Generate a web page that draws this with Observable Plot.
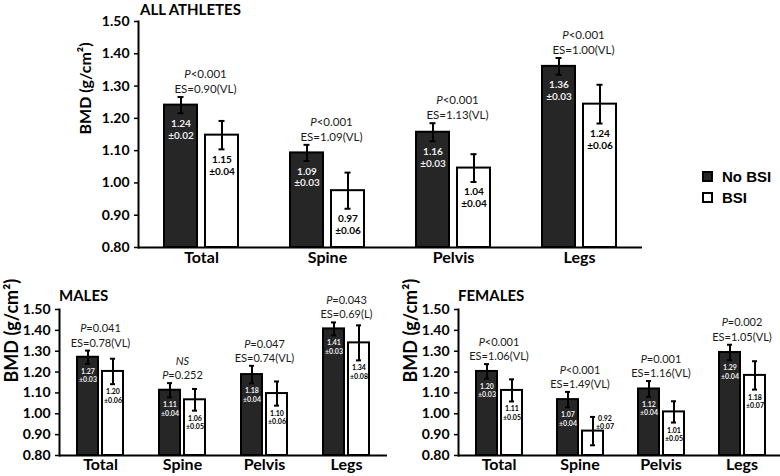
<!DOCTYPE html>
<html><head><meta charset="utf-8">
<script src="https://cdn.jsdelivr.net/npm/d3@7"></script>
<script src="https://cdn.jsdelivr.net/npm/@observablehq/plot@0.6"></script>
<style>
html,body{margin:0;padding:0;background:#fff;overflow:hidden}
#wrap{position:relative;width:780px;height:476px;overflow:hidden;font-family:Lato,"Open Sans",sans-serif}
.panel{position:absolute}
.title{position:absolute;font-weight:bold;font-size:15px;line-height:16px;color:#000;white-space:nowrap}
.leg{position:absolute;font-family:"Liberation Sans",Arial,sans-serif;font-weight:bold;font-size:15px;line-height:15px;color:#000;white-space:nowrap}
.sw{position:absolute;width:11px;height:11px;box-sizing:border-box;border:2px solid #000}
</style></head>
<body><div id="wrap"></div>
<script>
// ---------- data ----------
const categories = ["Total", "Spine", "Pelvis", "Legs"];
const groups = ["No BSI", "BSI"];
const yTicks = [0.8, 0.9, 1.0, 1.1, 1.2, 1.3, 1.4, 1.5];
const yLabel = "BMD (g/cm²)";

// ALL ATHLETES
const allNoBSI = [1.241, 1.093, 1.157, 1.361];
const allNoBSIErr = [0.025, 0.025, 0.028, 0.026];
const allBSI = [1.148, 0.976, 1.046, 1.244];
const allBSIErr = [0.044, 0.056, 0.043, 0.060];
const allNoBSILabel = ["1.24", "1.09", "1.16", "1.36"];
const allNoBSISD = ["0.02", "0.03", "0.03", "0.03"];
const allBSILabel = ["1.15", "0.97", "1.04", "1.24"];
const allBSISD = ["0.04", "0.06", "0.04", "0.06"];
const allLine1 = ["P<0.001", "P<0.001", "P<0.001", "P<0.001"];
const allLine2 = ["ES=0.90(VL)", "ES=1.09(VL)", "ES=1.13(VL)", "ES=1.00(VL)"];

// MALES
const maleNoBSI = [1.271, 1.113, 1.188, 1.407];
const maleNoBSIErr = [0.032, 0.034, 0.042, 0.031];
const maleBSI = [1.203, 1.067, 1.097, 1.340];
const maleBSIErr = [0.061, 0.052, 0.058, 0.084];
const maleNoBSILabel = ["1.27", "1.11", "1.18", "1.41"];
const maleNoBSISD = ["0.03", "0.04", "0.04", "0.03"];
const maleBSILabel = ["1.20", "1.06", "1.10", "1.34"];
const maleBSISD = ["0.06", "0.05", "0.06", "0.08"];
const maleLine1 = ["P=0.041", "NS", "P=0.047", "P=0.043"];
const maleLine2 = ["ES=0.78(VL)", "P=0.252", "ES=0.74(VL)", "ES=0.69(L)"];

// FEMALES
const femNoBSI = [1.203, 1.068, 1.119, 1.294];
const femNoBSIErr = [0.035, 0.037, 0.038, 0.037];
const femBSI = [1.112, 0.917, 1.009, 1.184];
const femBSIErr = [0.053, 0.068, 0.051, 0.068];
const femNoBSILabel = ["1.20", "1.07", "1.12", "1.29"];
const femNoBSISD = ["0.03", "0.04", "0.04", "0.04"];
const femBSILabel = ["1.11", "0.92", "1.01", "1.18"];
const femBSISD = ["0.05", "0.07", "0.05", "0.07"];
const femLine1 = ["P<0.001", "P<0.001", "P=0.001", "P=0.002"];
const femLine2 = ["ES=1.06(VL)", "ES=1.49(VL)", "ES=1.16(VL)", "ES=1.05(VL)"];

// ---------- helpers ----------
function buildRows(nm, ne, nl, ns, bm, be, bl, bs) {
  const rows = [];
  categories.forEach((c, i) => {
    rows.push({cat: c, group: "No BSI", mean: nm[i], err: ne[i], label: nl[i], sd: ns[i]});
    rows.push({cat: c, group: "BSI", mean: bm[i], err: be[i], label: bl[i], sd: bs[i]});
  });
  return rows;
}
function buildAnn(l1, l2, rows) {
  return categories.map((c, i) => ({
    cat: c,
    text: l1[i] + "\n" + l2[i],
    top: d3.max(rows.filter(r => r.cat === c), r => r.mean + r.err)
  }));
}
const fits = d => d.mean - d.err - 0.8 > 0.08;

function panel(o) {
  const {rows, ann} = o;
  return Plot.plot({
    width: o.ml + o.fw, height: o.h,
    marginTop: o.mt, marginBottom: o.mb, marginLeft: o.ml, marginRight: 0,
    style: {fontFamily: "Lato, 'Open Sans', sans-serif", color: "#000", background: "transparent", overflow: "visible"},
    fx: {domain: categories, padding: 0, label: null},
    x: {domain: groups, paddingInner: o.pi, paddingOuter: o.po, axis: null},
    y: {domain: [0.8, 1.5], label: null},
    marks: [
      Plot.barY(rows, {fx: "cat", x: "group", y1: 0.8, y2: "mean",
        fill: d => d.group === "No BSI" ? "#262626" : "#fff", stroke: "#000", strokeWidth: 2}),
      Plot.ruleX(rows, {fx: "cat", x: "group", y1: d => d.mean - d.err, y2: d => d.mean + d.err, stroke: "#000", strokeWidth: 2}),
      Plot.tickY(rows, {fx: "cat", x: "group", y: d => d.mean + d.err, insetLeft: o.cap, insetRight: o.cap, stroke: "#000", strokeWidth: 2}),
      Plot.tickY(rows, {fx: "cat", x: "group", y: d => d.mean - d.err, insetLeft: o.cap, insetRight: o.cap, stroke: "#000", strokeWidth: 2}),
      Plot.ruleY([0.8], {stroke: "#000", strokeWidth: 2}),
      Plot.frame({anchor: "left", facetAnchor: "left", stroke: "#000", strokeWidth: 2}),
      Plot.axisY({ticks: yTicks, tickFormat: d3.format(".2f"), tickSize: 4, tickPadding: 5,
        fontSize: 14, fontWeight: "bold", label: null, stroke: "#000", strokeWidth: 1.5}),
      Plot.text([yLabel], {frameAnchor: "left", facetAnchor: "left", text: d => d, rotate: -90,
        dx: o.ydx, fontSize: o.yfs, fontWeight: "bold", fill: "#000"}),
      Plot.axisFx({anchor: "bottom", tickSize: 0, tickPadding: o.fxp, fontSize: 16, fontWeight: "bold", label: null}),
      Plot.text(rows.filter(fits), {fx: "cat", x: "group", y: d => d.mean - d.err,
        text: d => d.label + "\n±" + d.sd, lineAnchor: "top", dy: o.ldy, lineHeight: 1.2,
        fontSize: o.lfs, fontWeight: "bold", fill: d => d.group === "No BSI" ? "#ececec" : "#000"}),
      Plot.text(rows.filter(d => !fits(d)), {fx: "cat", x: "group", y: d => d.mean + d.err,
        text: d => d.label + "\n±" + d.sd, lineAnchor: "top", dy: -2, dx: 12, lineHeight: 1.2,
        fontSize: o.lfs, fontWeight: "bold", fill: "#000"}),
      Plot.text(ann, {fx: "cat", y: "top", text: "text", lineAnchor: "bottom", dy: -4, dx: o.adx,
        lineHeight: 1.3, fontSize: o.afs, fill: "#1a1a1a", className: "ann"})
    ]
  });
}

function italicize(svg) {
  svg.querySelectorAll(".ann tspan, .ann text").forEach(el => {
    if (el.querySelector("tspan")) return;
    const t = el.textContent;
    if (t === "NS") { el.setAttribute("font-style", "italic"); return; }
    if (/^P[<=]/.test(t)) {
      el.textContent = "";
      const it = document.createElementNS("http://www.w3.org/2000/svg", "tspan");
      it.setAttribute("font-style", "italic");
      it.textContent = "P";
      el.appendChild(it);
      el.appendChild(document.createTextNode(t.slice(1)));
    }
  });
}

const wrap = document.getElementById("wrap");
function place(node, left, top) {
  node.classList.add("panel");
  node.style.left = left + "px";
  node.style.top = top + "px";
  wrap.appendChild(node);
  italicize(node);
}
function addDiv(cls, txt, left, top) {
  const d = document.createElement("div");
  d.className = cls;
  d.textContent = txt;
  d.style.left = left + "px";
  d.style.top = top + "px";
  wrap.appendChild(d);
  return d;
}

// ALL ATHLETES
const allRows = buildRows(allNoBSI, allNoBSIErr, allNoBSILabel, allNoBSISD, allBSI, allBSIErr, allBSILabel, allBSISD);
place(panel({rows: allRows, ann: buildAnn(allLine1, allLine2, allRows),
  ml: 138, fw: 504, h: 270, mt: 21, mb: 23, pi: 0.19, po: 0.615, cap: 13.5,
  ydx: -53, yfs: 16, fxp: 4, ldy: 5, lfs: 10, afs: 11.5, adx: 4}), 0, 0);

// MALES
const maleRows = buildRows(maleNoBSI, maleNoBSIErr, maleNoBSILabel, maleNoBSISD, maleBSI, maleBSIErr, maleBSILabel, maleBSISD);
place(panel({rows: maleRows, ann: buildAnn(maleLine1, maleLine2, maleRows),
  ml: 59, fw: 328, h: 180, mt: 13, mb: 21, pi: 0.18, po: 0.7, cap: 8,
  ydx: -47, yfs: 18, fxp: 3, ldy: 4, lfs: 7, afs: 11, adx: 0}), 0, 296);

// FEMALES
const femRows = buildRows(femNoBSI, femNoBSIErr, femNoBSILabel, femNoBSISD, femBSI, femBSIErr, femBSILabel, femBSISD);
place(panel({rows: femRows, ann: buildAnn(femLine1, femLine2, femRows),
  ml: 59, fw: 326, h: 180, mt: 13, mb: 21, pi: 0.18, po: 0.7, cap: 8,
  ydx: -47, yfs: 18, fxp: 3, ldy: 4, lfs: 7, afs: 11, adx: 0}), 398, 296);

// titles
addDiv("title", "ALL ATHLETES", 140, 1);
addDiv("title", "MALES", 59, 287);
addDiv("title", "FEMALES", 458, 287);

// legend
const s1 = addDiv("sw", "", 702, 171); s1.style.background = "#262626";
const s2 = addDiv("sw", "", 702, 192); s2.style.background = "#fff";
addDiv("leg", groups[0], 722, 169);
addDiv("leg", groups[1], 722, 190);
</script>
</body></html>
